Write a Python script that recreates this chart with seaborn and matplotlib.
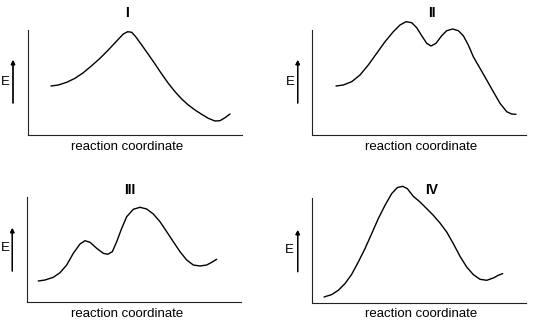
import matplotlib
matplotlib.use("Agg")
import matplotlib.pyplot as plt
import seaborn as sns
import pandas as pd

sns.set_theme(style="white")
plt.rcParams["font.family"] = ["Liberation Sans", "DejaVu Sans"]

# ---- data (reaction coordinate, energy) in arbitrary units ----
titles = ["I", "II", "III", "IV"]
x_label = "reaction coordinate"
y_label = "E"

coord_I = [23, 30.3, 38.7, 47, 55.3, 63.7, 72, 80.3, 88.7, 95.3, 99.7, 103.7, 107.7, 113.7, 120.3,
           127, 133.7, 140.3, 147, 153.7, 160.3, 167, 173.7, 180.3, 187, 192, 197, 202]
energy_I = [49, 50, 52.7, 56.7, 62.3, 69.3, 76.7, 85, 94, 101, 103.3, 102.7, 98.3, 90, 80.7,
            71, 61, 51.7, 43.3, 36, 30, 25, 20.7, 16.7, 14, 14.3, 17.3, 21]

coord_II = [23.7, 31, 39.4, 47.7, 56, 64.4, 72.7, 81, 87.7, 93.7, 99.4, 104.4, 109.4, 114.4, 118.7,
            123.7, 129.4, 134.4, 140.4, 146, 151, 156, 161, 167.7, 174.4, 181, 187.7, 194.4, 199.4, 203.7]
energy_II = [49, 50, 53.3, 60, 70, 81.7, 93.3, 103.3, 110, 113.3, 112.3, 107.3, 99.3, 91.7, 89,
             91.7, 99.3, 104.3, 106, 104.3, 99.3, 90, 78.3, 66.7, 55, 43.3, 31.7, 23.3, 21, 20.7]

coord_III = [11.6, 18.3, 26.6, 33.3, 40, 46.6, 53.3, 58.3, 63.3, 70, 76.6, 81, 85.6, 90, 95,
             100, 106.6, 113.3, 120, 126.6, 133.3, 140, 146.6, 153.3, 160, 166.6, 173.3, 180, 185, 190]
energy_III = [20.7, 21.7, 24.4, 29, 36.7, 48.4, 57.7, 61, 59.4, 53.4, 48.4, 47.4, 50, 60, 73.4,
              85, 92.4, 94.4, 92.7, 87.7, 80, 70, 60, 50, 41.7, 36.7, 35.7, 36.7, 39.4, 42.4]

coord_IV = [11.7, 19.4, 26, 32.7, 39.4, 46, 52.7, 59.4, 66, 72.7, 79.4, 85, 90.4, 95, 101,
            107.7, 114.4, 121, 127.7, 134.4, 141, 147.7, 154.4, 161, 167.7, 174.4, 181, 186, 190.4]
energy_IV = [6, 8.4, 12.7, 19.4, 28.7, 41, 54.4, 69.4, 84.4, 97.7, 109.4, 115.4, 116.7, 114.4, 106.7,
             101, 94.4, 87.7, 80, 71, 59.4, 46.7, 36, 28.4, 23.7, 22.7, 25, 27.7, 29.4]

curves = [(coord_I, energy_I), (coord_II, energy_II), (coord_III, energy_III), (coord_IV, energy_IV)]

# ---- layout (pixels) ----
W, H = 541, 327
fig = plt.figure(figsize=(W / 100, H / 100), dpi=100)
fig.patch.set_facecolor("white")

boxes = [(28, 30), (312.3, 30), (26.7, 196.7), (312.3, 198)]
bw, bh = 214, 105
title_pos = [(127, 13), (432, 13), (130, 190), (432, 190)]
label_pos = [(127, 147), (421, 147), (127, 314), (421, 314)]
e_pos = [(5, 82), (290, 82), (5, 248), (289, 250)]
arrow_pos = [(13, 103, 60), (297.7, 103, 60), (12.3, 271, 228), (297.7, 271.7, 230)]

for i, ((cx, cy), (l, t)) in enumerate(zip(curves, boxes)):
    ax = fig.add_axes([l / W, 1 - (t + bh) / H, bw / W, bh / H])
    df = pd.DataFrame({"coord": cx, "energy": cy})
    sns.lineplot(data=df, x="coord", y="energy", ax=ax, color="black",
                 sort=False, estimator=None, lw=1.0, clip_on=False,
                 solid_joinstyle="round", solid_capstyle="round")
    ax.set_xlim(0, bw)
    ax.set_ylim(0, bh)
    ax.set_xticks([])
    ax.set_yticks([])
    ax.set_xlabel("")
    ax.set_ylabel("")
    ax.set_facecolor("none")
    for s in ["top", "right"]:
        ax.spines[s].set_visible(False)
    for s in ["left", "bottom"]:
        ax.spines[s].set_color("#222222")
        ax.spines[s].set_linewidth(0.8)

    tx, ty = title_pos[i]
    fig.text(tx / W, 1 - ty / H, titles[i], ha="center", va="center",
             fontsize=10, fontweight="bold", color="black")
    lx, ly = label_pos[i]
    fig.text(lx / W, 1 - ly / H, x_label, ha="center", va="center",
             fontsize=9.5, color="black")
    ex, ey = e_pos[i]
    fig.text(ex / W, 1 - ey / H, y_label, ha="center", va="center",
             fontsize=9.5, color="black")
    axx, ay0, ay1 = arrow_pos[i]
    fig.add_artist(plt.annotate("", xy=(axx / W, 1 - ay1 / H), xytext=(axx / W, 1 - ay0 / H),
                                xycoords="figure fraction", textcoords="figure fraction",
                                arrowprops=dict(arrowstyle="-|>", lw=0.9, color="black",
                                                mutation_scale=6, shrinkA=0, shrinkB=0)))

fig.savefig("out.png", dpi=100, facecolor="white")
